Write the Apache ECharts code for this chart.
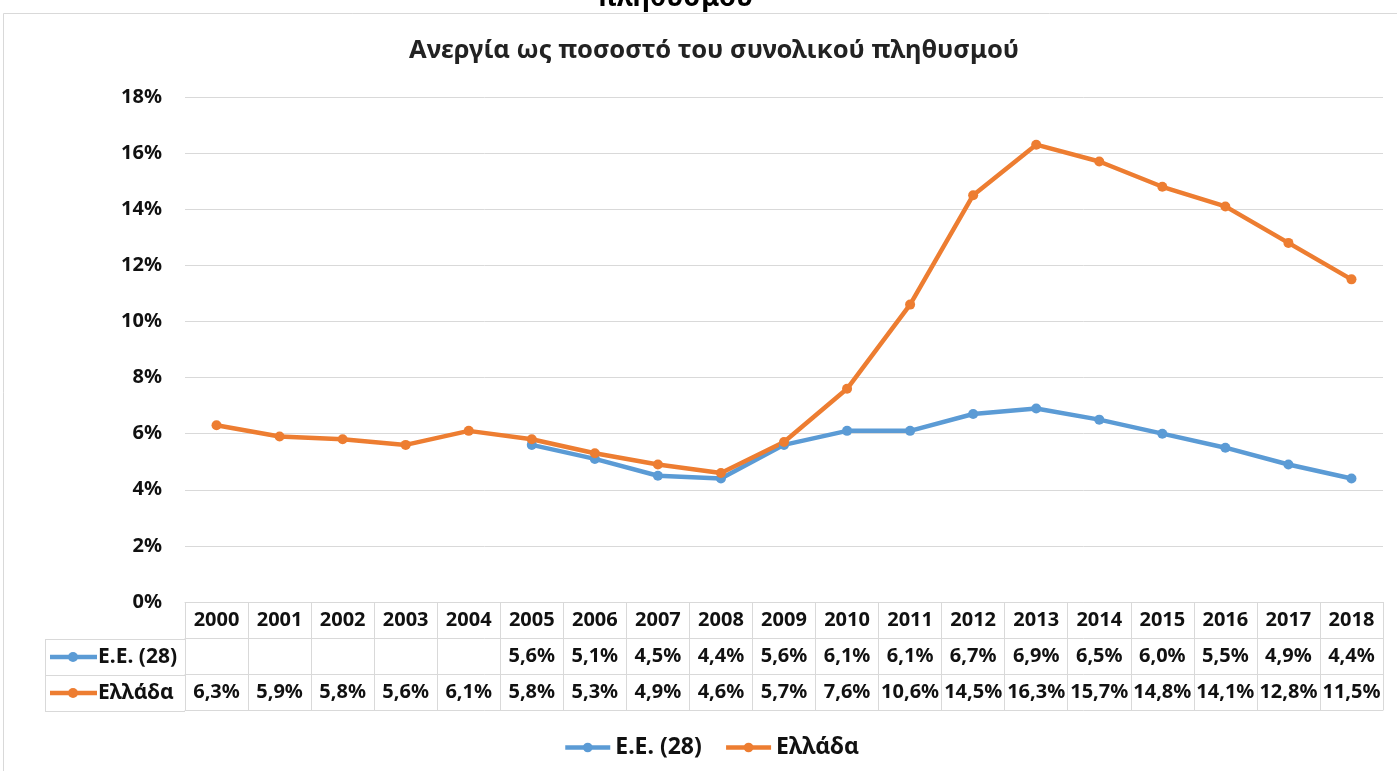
<!DOCTYPE html>
<html>
<head>
<meta charset="utf-8">
<script src="https://cdn.jsdelivr.net/npm/echarts@6/dist/echarts.min.js"></script>
<style>html,body{margin:0;padding:0;background:#fff;}#c{width:1397px;height:771px;}</style>
</head>
<body>
<div id="c"></div>
<script>
const years = ['2000','2001','2002','2003','2004','2005','2006','2007','2008','2009','2010','2011','2012','2013','2014','2015','2016','2017','2018'];
const euValues = [null,null,null,null,null,5.6,5.1,4.5,4.4,5.6,6.1,6.1,6.7,6.9,6.5,6.0,5.5,4.9,4.4];
const grValues = [6.3,5.9,5.8,5.6,6.1,5.8,5.3,4.9,4.6,5.7,7.6,10.6,14.5,16.3,15.7,14.8,14.1,12.8,11.5];
const seriesNames = ['Ε.Ε. (28)','Ελλάδα'];
const yTicks = {min:0, max:18, interval:2};
const titleText = 'Ανεργία ως ποσοστό του συνολικού πληθυσμού';
const cutText = 'πληθυσμού';

const BLUE = '#5b9bd5', ORANGE = '#ed7d31', GRID = '#d9d9d9', TXT = '#111';
const FONT = '"Noto Sans", "Open Sans", sans-serif';
const fmt = v => (v == null ? '' : v.toFixed(1).replace('.', ',') + '%');

const chart = echarts.init(document.getElementById('c'), null, {renderer:'canvas'});

function tableAxis(offset, labels, showTicks) {
  return {
    type:'category', data: years, position:'bottom', offset: offset, boundaryGap:true,
    axisLine:{show:true, lineStyle:{color:GRID, width:1}},
    axisTick:{show:showTicks, length:108, lineStyle:{color:GRID, width:1}},
    axisLabel:{show: labels != null, interval:0, margin:8, color:TXT, fontFamily:FONT, fontWeight:'bold', fontSize:20,
      formatter:(v, i) => labels ? labels[i] : ''},
    splitLine:{show:false}
  };
}

function keyIcon(y, color, label) {
  return [
    {type:'line', shape:{x1:50, y1:y, x2:97, y2:y}, style:{stroke:color, lineWidth:4.5}},
    {type:'circle', shape:{cx:73, cy:y, r:5}, style:{fill:color}},
    {type:'text', x:98, y:y, style:{text:label, fill:TXT, font:'bold 21px ' + FONT, textVerticalAlign:'middle', verticalAlign:'middle'}}
  ];
}

const option = {
  backgroundColor:'#fff',
  animation:false,
  title:{text:titleText, left:404, top:33, textStyle:{fontFamily:FONT, fontWeight:'bold', fontSize:25.5, color:'#222'}},
  grid:{left:185, right:14, top:97, bottom:169, containLabel:false},
  xAxis:[
    tableAxis(0, years, true),
    tableAxis(36, euValues.map(fmt), false),
    tableAxis(72, grValues.map(fmt), false),
    tableAxis(108, null, false)
  ],
  yAxis:{type:'value', min:yTicks.min, max:yTicks.max, interval:yTicks.interval,
    axisLine:{show:false}, axisTick:{show:false},
    axisLabel:{margin:23, color:TXT, fontFamily:FONT, fontWeight:'bold', fontSize:20, formatter:'{value}%'},
    splitLine:{lineStyle:{color:GRID, width:1}}},
  legend:{left:558, top:731, itemWidth:45, itemHeight:12, itemGap:22,
    lineStyle:{width:4.5},
    textStyle:{fontFamily:FONT, fontWeight:'bold', fontSize:23, color:TXT},
    data:seriesNames},
  series:[
    {name:seriesNames[0], type:'line', data:euValues, xAxisIndex:0, color:BLUE,
      lineStyle:{width:4.5, color:BLUE}, symbol:'circle', symbolSize:10, itemStyle:{color:BLUE}, connectNulls:false},
    {name:seriesNames[1], type:'line', data:grValues, xAxisIndex:0, color:ORANGE,
      lineStyle:{width:4.5, color:ORANGE}, symbol:'circle', symbolSize:10, itemStyle:{color:ORANGE}}
  ],
  graphic:[
    {type:'rect', z:-1, shape:{x:3.5, y:13.5, width:1400, height:770}, style:{fill:'none', stroke:GRID, lineWidth:1}},
    {type:'text', x:675, y:12, style:{text:cutText, fill:'#000', font:'bold 27px ' + FONT, textAlign:'center', textVerticalAlign:'bottom', align:'center', verticalAlign:'bottom'}},
    {type:'line', shape:{x1:45, y1:639.5, x2:185, y2:639.5}, style:{stroke:GRID, lineWidth:1}},
    {type:'line', shape:{x1:45, y1:675.5, x2:185, y2:675.5}, style:{stroke:GRID, lineWidth:1}},
    {type:'line', shape:{x1:45, y1:711.5, x2:185, y2:711.5}, style:{stroke:GRID, lineWidth:1}},
    {type:'line', shape:{x1:45.5, y1:639.5, x2:45.5, y2:711.5}, style:{stroke:GRID, lineWidth:1}},
    ...keyIcon(657, BLUE, seriesNames[0]),
    ...keyIcon(693, ORANGE, seriesNames[1])
  ]
};
chart.setOption(option);
</script>
</body>
</html>
